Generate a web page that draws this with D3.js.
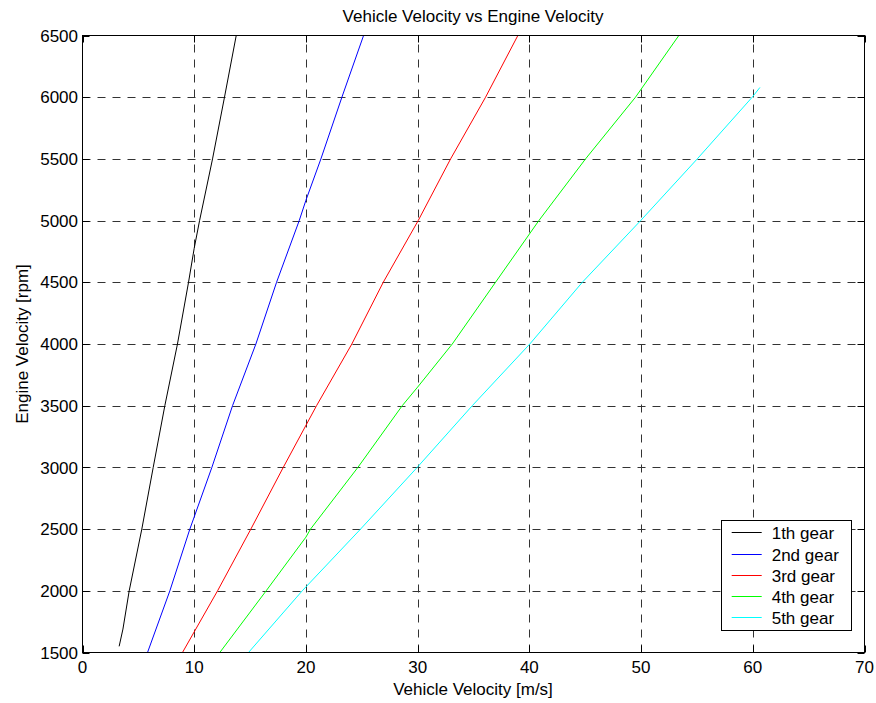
<!DOCTYPE html>
<html><head><meta charset="utf-8">
<script src="https://cdn.jsdelivr.net/npm/d3@7"></script>
<style>body{margin:0;background:#fff} text{font-family:"Liberation Sans",Arial,sans-serif;fill:#000}</style>
</head><body><svg id="c" width="876" height="703"></svg>
<script>
const chartTitle = "Vehicle Velocity vs Engine Velocity";
const xLabel = "Vehicle Velocity [m/s]";
const yLabel = "Engine Velocity [rpm]";
const gearNames = ["1th gear", "2nd gear", "3rd gear", "4th gear", "5th gear"];
const gearColors = ["#000000", "#0000ff", "#ff0000", "#00ff00", "#00ffff"];

const gear1Speed = [3.28, 3.62, 4.18, 5.31, 6.33, 7.37, 8.50, 9.49, 10.0, 10.48, 11.64, 12.71, 13.76];
const gear1Rpm   = [1550, 1690, 2000, 2500, 3000, 3500, 4000, 4500, 4776, 5000, 5500, 6000, 6500];
const gear2Speed = [5.82, 7.82, 9.61, 11.58, 13.43, 15.52, 17.37, 19.40, 20.0, 21.34, 23.22, 25.16];
const gear2Rpm   = [1500, 2000, 2500, 3000, 3500, 4000, 4500, 5000, 5165, 5500, 6000, 6500];
const gear3Speed = [8.95, 12.09, 15.07, 17.97, 20.95, 24.11, 26.92, 30.05, 32.95, 36.08, 38.97];
const gear3Rpm   = [1500, 2000, 2500, 3000, 3500, 4000, 4500, 5000, 5500, 6000, 6500];
const gear4Speed = [12.29, 16.44, 20.0, 20.41, 24.65, 28.62, 30.0, 33.10, 36.97, 40.85, 45.03, 49.50, 53.38];
const gear4Rpm   = [1500, 2000, 2435, 2500, 3000, 3500, 3651, 4000, 4500, 5000, 5500, 6000, 6500];
const gear5Speed = [14.86, 19.67, 24.89, 29.96, 34.89, 40.04, 44.74, 49.96, 55.03, 59.95, 60.64];
const gear5Rpm   = [1500, 2000, 2500, 3000, 3500, 4000, 4500, 5000, 5500, 6000, 6079];

const xTicks = [0, 10, 20, 30, 40, 50, 60, 70];
const yTicks = [1500, 2000, 2500, 3000, 3500, 4000, 4500, 5000, 5500, 6000, 6500];

const series = [
  [gear1Speed, gear1Rpm], [gear2Speed, gear2Rpm], [gear3Speed, gear3Rpm],
  [gear4Speed, gear4Rpm], [gear5Speed, gear5Rpm]
].map((s, i) => ({name: gearNames[i], color: gearColors[i], pts: s[0].map((v, j) => [v, s[1][j]])}));

const L = 82.5, R = 864.5, T = 35.5, B = 652.5;
const x = d3.scaleLinear().domain([0, 70]).range([L, R]);
const y = d3.scaleLinear().domain([1500, 6500]).range([B, T]);
const svg = d3.select("#c");
const FS = "17px";

// grid
const grid = svg.append("g").attr("stroke", "#333").attr("stroke-width", 1).attr("stroke-dasharray", "8,7");
grid.selectAll(".gx").data(xTicks.slice(1, -1)).enter().append("line")
  .attr("x1", d => Math.round(x(d)) + 0.5).attr("x2", d => Math.round(x(d)) + 0.5).attr("y1", B).attr("y2", T);
grid.selectAll(".gy").data(yTicks.slice(1, -1)).enter().append("line")
  .attr("y1", d => Math.round(y(d)) + 0.5).attr("y2", d => Math.round(y(d)) + 0.5).attr("x1", L).attr("x2", R);

// ticks (inward, all sides)
const tk = svg.append("g").attr("stroke", "#000").attr("stroke-width", 1);
xTicks.forEach(d => {
  const xp = Math.round(x(d)) + 0.5;
  tk.append("line").attr("x1", xp).attr("x2", xp).attr("y1", B).attr("y2", B - 7);
  tk.append("line").attr("x1", xp).attr("x2", xp).attr("y1", T).attr("y2", T + 7);
});
yTicks.forEach(d => {
  const yp = Math.round(y(d)) + 0.5;
  tk.append("line").attr("y1", yp).attr("y2", yp).attr("x1", L).attr("x2", L + 7);
  tk.append("line").attr("y1", yp).attr("y2", yp).attr("x1", R).attr("x2", R - 7);
});

// data
svg.append("clipPath").attr("id", "clip").append("rect").attr("x", L).attr("y", T - 1).attr("width", R - L).attr("height", B - T + 1);
const line = d3.line().x(d => x(d[0])).y(d => y(d[1]));
svg.append("g").attr("clip-path", "url(#clip)").selectAll("path").data(series).enter().append("path")
  .attr("d", d => line(d.pts)).attr("fill", "none").attr("stroke", d => d.color).attr("stroke-width", 1);

// frame
svg.append("rect").attr("x", L).attr("y", T).attr("width", R - L).attr("height", B - T)
  .attr("fill", "none").attr("stroke", "#000").attr("stroke-width", 1);

// tick labels
svg.append("g").selectAll("text").data(xTicks).enter().append("text")
  .attr("x", d => x(d)).attr("y", 673).attr("text-anchor", "middle").style("font-size", FS).text(d => d);
svg.append("g").selectAll("text").data(yTicks).enter().append("text")
  .attr("x", 78).attr("y", d => y(d)).attr("dy", "0.36em").attr("text-anchor", "end").style("font-size", FS).text(d => d);

// titles
svg.append("text").attr("x", 473).attr("y", 22).attr("text-anchor", "middle").style("font-size", FS).text(chartTitle);
svg.append("text").attr("x", 473).attr("y", 695).attr("text-anchor", "middle").style("font-size", FS).text(xLabel);
svg.append("text").attr("transform", "translate(28,344) rotate(-90)").attr("text-anchor", "middle").style("font-size", FS).text(yLabel);

// legend
const lg = svg.append("g");
lg.append("rect").attr("x", 721.5).attr("y", 520.5).attr("width", 130).attr("height", 110)
  .attr("fill", "#fff").attr("stroke", "#000").attr("stroke-width", 1);
series.forEach((s, i) => {
  const yy = Math.round(532.3 + i * 21.2) + 0.5;
  lg.append("line").attr("x1", 731.7).attr("x2", 761.7).attr("y1", yy).attr("y2", yy).attr("stroke", s.color).attr("stroke-width", 1);
  lg.append("text").attr("x", 771.7).attr("y", yy).attr("dy", "0.36em").style("font-size", FS).text(s.name);
});
</script></body></html>
